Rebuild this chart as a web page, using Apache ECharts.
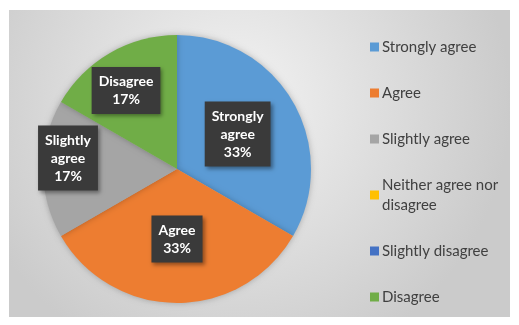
<!DOCTYPE html>
<html>
<head>
<meta charset="utf-8">
<script src="https://cdn.jsdelivr.net/npm/echarts@6/dist/echarts.min.js"></script>
<style>
  html, body { margin: 0; padding: 0; background: #fff; }
  #main { width: 519px; height: 325px; }
</style>
</head>
<body>
<div id="main"></div>
<script>
var categories = ['Strongly agree', 'Agree', 'Slightly agree', 'Neither agree nor disagree', 'Slightly disagree', 'Disagree'];
var counts = [2, 2, 1, 0, 0, 1];
var colors = ['#5b9bd5', '#ed7d31', '#a5a5a5', '#ffc000', '#4472c4', '#70ad47'];
// label nudges for the small slices (Excel puts them further out)
var labelOffsets = [[0, 0], [0, 0], [-39, -11], [0, 0], [0, 0], [-16, -18]];

var chart = echarts.init(document.getElementById('main'));

var pieData = categories.map(function (name, i) {
    return {
        name: name,
        value: counts[i],
        itemStyle: { color: colors[i] },
        label: { show: counts[i] > 0, offset: labelOffsets[i] }
    };
});

var option = {
    animation: false,
    graphic: [{
        type: 'rect',
        shape: { x: 9, y: 10, width: 501, height: 307 },
        z: -10,
        style: {
            fill: {
                type: 'radial', x: 0.45, y: 0.3, r: 0.9,
                colorStops: [
                    { offset: 0, color: '#f3f3f3' },
                    { offset: 1, color: '#cbcbcb' }
                ]
            }
        }
    }],
    legend: {
        orient: 'vertical',
        left: 365,
        top: 32,
        itemWidth: 9,
        itemHeight: 9,
        itemGap: 26,
        icon: 'rect',
        selectedMode: false,
        textStyle: {
            fontFamily: 'Lato',
            fontSize: 15,
            color: '#404040',
            lineHeight: 20,
            padding: [0, 0, 0, -2]
        },
        formatter: function (name) {
            return name === 'Neither agree nor disagree' ? 'Neither agree nor\ndisagree' : name;
        },
        data: categories
    },
    series: [{
        type: 'pie',
        center: [177, 169],
        radius: 134,
        startAngle: 90,
        clockwise: true,
        itemStyle: {
            shadowBlur: 6,
            shadowColor: 'rgba(0,0,0,0.25)'
        },
        label: {
            position: 'inside',
            formatter: function (p) {
                return p.name.replace(' ', '\n') + '\n' + Math.round(p.percent) + '%';
            },
            fontFamily: 'Lato',
            fontWeight: 'bold',
            fontSize: 14,
            lineHeight: 18,
            color: '#ffffff',
            backgroundColor: '#3a3a3a',
            padding: [6, 7, 5, 7],
            shadowBlur: 4,
            shadowColor: 'rgba(0,0,0,0.4)',
            shadowOffsetX: 2,
            shadowOffsetY: 2
        },
        labelLine: { show: false },
        data: pieData
    }]
};

chart.setOption(option);
</script>
</body>
</html>
